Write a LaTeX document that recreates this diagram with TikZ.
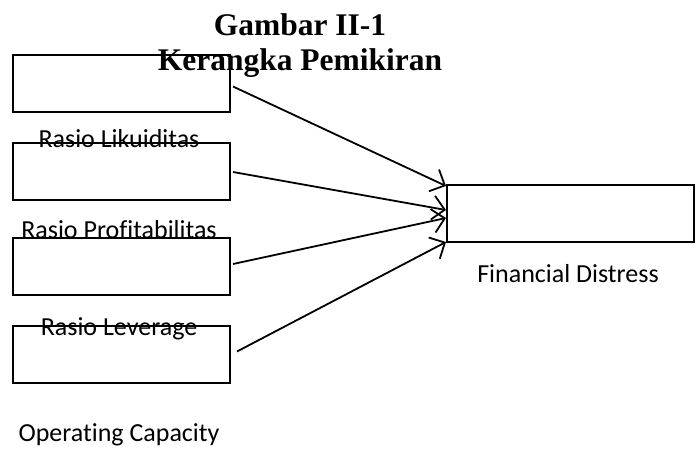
\documentclass[tikz,border=0pt]{standalone}
\usepackage{fontspec}
\setmainfont{Carlito}[Ligatures=NoCommon]
\newfontfamily\titlefont{Liberation Serif}
\usepackage{tikz}
\usetikzlibrary{arrows.meta}

\begin{document}
\begin{tikzpicture}
      [x=1pt,y=-1pt,
       var/.style={rectangle,draw=black,line width=2pt,minimum width=217pt,minimum height=57pt,inner sep=0pt},
       txt/.style={anchor=base,inner sep=0pt,font=\fontsize{26}{30}\selectfont},
       link/.style={-{Straight Barb[length=12pt,width=24pt]},line width=1.8pt}]
      \useasboundingbox (0,0) rectangle (700,454);
      % title
      \node[font=\titlefont\bfseries\fontsize{31.5}{35}\selectfont,align=center,anchor=north,inner sep=0pt] (title) at (300,13) {Gambar II-1\\Kerangka Pemikiran};
      % place nodes
      \node[var] (likuiditas) at (121.5,83.5) {};
      \node[var] (profitabilitas) at (121.5,172) {};
      \node[var] (leverage) at (121.5,266) {};
      \node[var] (capacity) at (121.5,354.5) {};
      \node[var,minimum width=247pt] (distress) at (570.5,213.5) {};
      % labels
      \node[txt] (liktext) at (119,148) {Rasio Likuiditas};
      \node[txt] (proftext) at (119,238) {Rasio Profitabilitas};
      \node[txt] (levtext) at (119,335) {Rasio Leverage};
      \node[txt] (captext) at (119,441) {Operating Capacity};
      \node[txt] (distext) at (568,282) {Financial Distress};
      % add edges
      \draw[link] ([xshift=2pt,yshift=-3pt]likuiditas.east) -- ([yshift=-2pt]distress.north west);
      \draw[link] ([xshift=2pt]profitabilitas.east) -- ([yshift=3.5pt]distress.west);
      \draw[link] ([xshift=2pt,yshift=2pt]leverage.east) -- ([yshift=-4.5pt]distress.west);
      \draw[link] ([xshift=6pt,yshift=3pt]capacity.east) -- ([yshift=1pt]distress.south west);
\end{tikzpicture}
\end{document}
